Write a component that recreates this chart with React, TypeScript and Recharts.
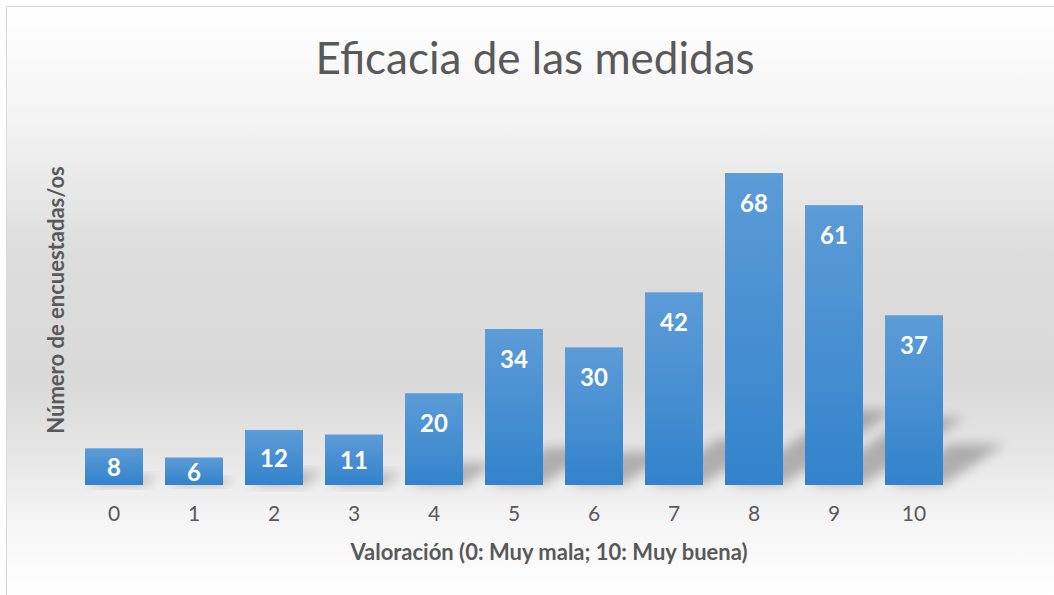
import { BarChart, Bar, XAxis, YAxis } from "recharts";

const categories = ["0", "1", "2", "3", "4", "5", "6", "7", "8", "9", "10"];
const respondents = [8, 6, 12, 11, 20, 34, 30, 42, 68, 61, 37];

const chartData = categories.map((name, i) => ({ name, value: respondents[i] }));

const FONT = "Lato, 'Open Sans', sans-serif";
const GREY = "#595959";

// bar with a soft shadow thrown to the upper right
const ShadowBar = (props: any) => {
  const { x, y, width, height } = props;
  if (!height || height <= 0) return null;
  const base = y + height;
  const dx = height * 0.36;
  const dy = height * 0.24;
  const shadow = `M${x + 4},${base} L${x + width},${base} L${x + width + dx},${base - dy} L${x + 4 + dx},${base - dy} Z`;
  return (
    <g>
      <path d={shadow} fill="#000" opacity={0.25} filter="url(#barShadow)" />
      <rect x={x} y={y} width={width} height={height} fill="url(#barFill)" />
    </g>
  );
};

const InsideLabel = (props: any) => {
  const { x, y, width, height, value } = props;
  const cy = Math.min(y + 29, y + height / 2);
  return (
    <text
      x={x + width / 2}
      y={cy}
      textAnchor="middle"
      dominantBaseline="central"
      fill="#fff"
      fontFamily={FONT}
      fontWeight={700}
      fontSize={24}
    >
      {value}
    </text>
  );
};

export default function App() {
  return (
    <div style={{ position: "absolute", left: 0, top: 0, width: 1054, height: 595, background: "#fff", overflow: "hidden" }}>
      <div
        style={{
          position: "absolute",
          left: 6,
          top: 6,
          width: 1060,
          height: 600,
          borderLeft: "1.5px solid #d9d9d9",
          borderTop: "1.5px solid #d9d9d9",
          background:
            "linear-gradient(to bottom, #ffffff 0px, #f4f4f4 110px, #dcdcdc 250px, #d9d9d9 380px, #ebebeb 470px, #f6f6f6 520px, #ffffff 589px)",
        }}
      />
      <div
        style={{
          position: "absolute",
          left: 0,
          width: 1070,
          top: 29,
          textAlign: "center",
          fontFamily: FONT,
          fontSize: 44,
          color: GREY,
          lineHeight: "56px",
        }}
      >
        Eficacia de las medidas
      </div>
      <div
        style={{
          position: "absolute",
          left: 55,
          top: 300,
          transform: "translate(-50%, -50%) rotate(-90deg)",
          whiteSpace: "nowrap",
          fontFamily: FONT,
          fontWeight: 700,
          fontSize: 22,
          color: GREY,
        }}
      >
        Número de encuestadas/os
      </div>
      <div
        style={{
          position: "absolute",
          left: 549,
          top: 551,
          transform: "translate(-50%, -50%)",
          whiteSpace: "nowrap",
          fontFamily: FONT,
          fontWeight: 700,
          fontSize: 22,
          color: GREY,
        }}
      >
        Valoración (0: Muy mala; 10: Muy buena)
      </div>
      <div style={{ position: "absolute", left: 0, top: 0 }}>
        <BarChart
          width={1054}
          height={595}
          data={chartData}
          margin={{ top: 118, right: 100, left: 74, bottom: 80 }}
          barCategoryGap={11}
        >
          <defs>
            <linearGradient id="barFill" x1="0" y1="0" x2="0" y2="1">
              <stop offset="0%" stopColor="#5c9cd7" />
              <stop offset="100%" stopColor="#3382cb" />
            </linearGradient>
            <filter id="barShadow" x="-50%" y="-50%" width="200%" height="200%">
              <feGaussianBlur stdDeviation="6" />
            </filter>
          </defs>
          <XAxis
            dataKey="name"
            height={30}
            axisLine={false}
            tickLine={false}
            tickSize={0}
            tickMargin={21}
            tick={{ fill: GREY, fontSize: 21, fontFamily: FONT }}
            interval={0}
          />
          <YAxis hide domain={[0, 80]} />
          <Bar
            dataKey="value"
            shape={ShadowBar}
            label={InsideLabel}
            isAnimationActive={false}
          />
        </BarChart>
      </div>
    </div>
  );
}
